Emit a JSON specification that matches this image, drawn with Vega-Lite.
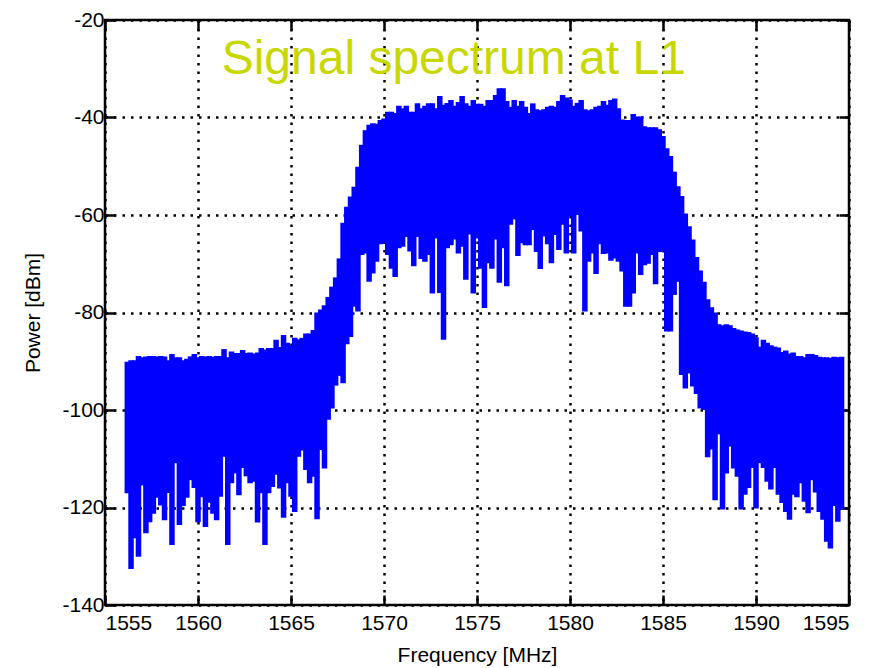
{
  "$schema": "https://vega.github.io/schema/vega-lite/v6.json",
  "width": 744,
  "height": 585,
  "autosize": {"type": "none"},
  "padding": {"left": 105, "top": 20, "right": 37, "bottom": 63},
  "background": "white",
  "config": {"view": {"stroke": "black", "strokeWidth": 2.5}, "font": "Liberation Sans"},
  "layer": [
    {
      "data": {"values": [
        {"f":1556.2,"h":-90.1,"l":-117.1},{"f":1556.4,"h":-89.8,"l":-132.6},{"f":1556.6,"h":-89.8,"l":-126.3},{"f":1556.8,"h":-88.9,"l":-130.1},
        {"f":1557.0,"h":-89.2,"l":-115.5},{"f":1557.2,"h":-89.0,"l":-125.3},{"f":1557.4,"h":-88.9,"l":-123.0},{"f":1557.6,"h":-88.9,"l":-121.3},
        {"f":1557.8,"h":-89.0,"l":-118.0},{"f":1558.0,"h":-88.9,"l":-119.6},{"f":1558.2,"h":-89.0,"l":-122.6},{"f":1558.4,"h":-89.8,"l":-117.0},
        {"f":1558.6,"h":-88.5,"l":-127.7},{"f":1558.8,"h":-89.2,"l":-110.9},{"f":1559.0,"h":-89.2,"l":-123.6},{"f":1559.2,"h":-89.8,"l":-119.7},
        {"f":1559.4,"h":-89.5,"l":-118.0},{"f":1559.6,"h":-89.0,"l":-114.4},{"f":1559.8,"h":-88.5,"l":-116.0},{"f":1560.0,"h":-89.2,"l":-123.0},
        {"f":1560.2,"h":-88.9,"l":-117.9},{"f":1560.4,"h":-89.0,"l":-124.0},{"f":1560.6,"h":-88.9,"l":-119.0},{"f":1560.8,"h":-89.1,"l":-121.3},
        {"f":1561.0,"h":-88.9,"l":-122.6},{"f":1561.2,"h":-88.9,"l":-117.8},{"f":1561.4,"h":-87.5,"l":-109.6},{"f":1561.6,"h":-89.2,"l":-127.7},
        {"f":1561.8,"h":-88.0,"l":-115.0},{"f":1562.0,"h":-88.3,"l":-113.0},{"f":1562.2,"h":-88.3,"l":-117.5},{"f":1562.4,"h":-87.7,"l":-111.9},
        {"f":1562.6,"h":-88.3,"l":-113.6},{"f":1562.8,"h":-88.2,"l":-115.0},{"f":1563.0,"h":-88.4,"l":-114.7},{"f":1563.2,"h":-88.2,"l":-123.1},
        {"f":1563.4,"h":-87.3,"l":-117.1},{"f":1563.6,"h":-87.6,"l":-127.7},{"f":1563.8,"h":-87.3,"l":-117.1},{"f":1564.0,"h":-87.3,"l":-115.8},
        {"f":1564.2,"h":-85.6,"l":-113.3},{"f":1564.4,"h":-87.1,"l":-116.1},{"f":1564.6,"h":-84.6,"l":-122.1},{"f":1564.8,"h":-86.2,"l":-115.0},
        {"f":1565.0,"h":-86.7,"l":-117.8},{"f":1565.2,"h":-85.2,"l":-120.9},{"f":1565.4,"h":-85.5,"l":-109.6},{"f":1565.6,"h":-85.2,"l":-108.3},
        {"f":1565.8,"h":-84.3,"l":-112.3},{"f":1566.0,"h":-84.3,"l":-115.0},{"f":1566.2,"h":-83.6,"l":-113.7},{"f":1566.4,"h":-80.0,"l":-122.4},
        {"f":1566.6,"h":-79.4,"l":-108.2},{"f":1566.8,"h":-78.5,"l":-112.0},{"f":1567.0,"h":-76.8,"l":-102.0},{"f":1567.2,"h":-74.7,"l":-99.7},
        {"f":1567.4,"h":-72.8,"l":-95.0},{"f":1567.6,"h":-68.9,"l":-93.0},{"f":1567.8,"h":-61.6,"l":-94.5},{"f":1568.0,"h":-58.3,"l":-86.5},
        {"f":1568.2,"h":-56.2,"l":-85.0},{"f":1568.4,"h":-54.2,"l":-78.8},{"f":1568.6,"h":-50.1,"l":-79.8},{"f":1568.8,"h":-45.6,"l":-68.2},
        {"f":1569.0,"h":-42.6,"l":-67.9},{"f":1569.2,"h":-41.5,"l":-73.7},{"f":1569.4,"h":-41.2,"l":-72.0},{"f":1569.6,"h":-41.3,"l":-69.6},
        {"f":1569.8,"h":-40.5,"l":-66.0},{"f":1570.0,"h":-40.2,"l":-65.8},{"f":1570.2,"h":-38.8,"l":-68.2},{"f":1570.4,"h":-38.8,"l":-71.0},
        {"f":1570.6,"h":-39.1,"l":-72.7},{"f":1570.8,"h":-37.6,"l":-66.8},{"f":1571.0,"h":-38.1,"l":-66.5},{"f":1571.2,"h":-37.6,"l":-64.5},
        {"f":1571.4,"h":-38.8,"l":-67.5},{"f":1571.6,"h":-38.8,"l":-70.5},{"f":1571.8,"h":-37.1,"l":-64.5},{"f":1572.0,"h":-38.1,"l":-69.0},
        {"f":1572.2,"h":-37.6,"l":-69.6},{"f":1572.4,"h":-37.1,"l":-68.2},{"f":1572.6,"h":-37.1,"l":-76.1},{"f":1572.8,"h":-38.1,"l":-64.8},
        {"f":1573.0,"h":-35.6,"l":-76.0},{"f":1573.2,"h":-37.4,"l":-85.6},{"f":1573.4,"h":-37.0,"l":-66.8},{"f":1573.6,"h":-36.4,"l":-66.2},
        {"f":1573.8,"h":-37.6,"l":-65.0},{"f":1574.0,"h":-36.8,"l":-67.9},{"f":1574.2,"h":-35.6,"l":-66.5},{"f":1574.4,"h":-37.1,"l":-73.3},
        {"f":1574.6,"h":-37.6,"l":-64.0},{"f":1574.8,"h":-36.4,"l":-76.1},{"f":1575.0,"h":-37.2,"l":-64.8},{"f":1575.2,"h":-37.2,"l":-71.0},
        {"f":1575.4,"h":-37.6,"l":-79.1},{"f":1575.6,"h":-36.4,"l":-69.9},{"f":1575.8,"h":-36.4,"l":-71.0},{"f":1576.0,"h":-35.4,"l":-65.0},
        {"f":1576.2,"h":-34.0,"l":-73.9},{"f":1576.4,"h":-34.0,"l":-66.8},{"f":1576.6,"h":-36.6,"l":-74.6},{"f":1576.8,"h":-37.8,"l":-62.0},
        {"f":1577.0,"h":-36.4,"l":-60.9},{"f":1577.2,"h":-37.6,"l":-68.4},{"f":1577.4,"h":-36.6,"l":-65.8},{"f":1577.6,"h":-37.8,"l":-66.2},
        {"f":1577.8,"h":-39.1,"l":-66.2},{"f":1578.0,"h":-37.1,"l":-63.1},{"f":1578.2,"h":-38.3,"l":-67.6},{"f":1578.4,"h":-38.5,"l":-71.1},
        {"f":1578.6,"h":-38.3,"l":-64.4},{"f":1578.8,"h":-37.8,"l":-66.0},{"f":1579.0,"h":-37.6,"l":-69.9},{"f":1579.2,"h":-37.8,"l":-64.1},
        {"f":1579.4,"h":-36.6,"l":-67.2},{"f":1579.6,"h":-35.4,"l":-62.0},{"f":1579.8,"h":-35.9,"l":-67.9},{"f":1580.0,"h":-36.3,"l":-60.3},
        {"f":1580.2,"h":-37.6,"l":-67.9},{"f":1580.4,"h":-37.0,"l":-60.0},{"f":1580.6,"h":-36.4,"l":-63.4},{"f":1580.8,"h":-38.3,"l":-79.8},
        {"f":1581.0,"h":-38.5,"l":-69.6},{"f":1581.2,"h":-38.3,"l":-67.9},{"f":1581.4,"h":-37.8,"l":-72.1},{"f":1581.6,"h":-37.6,"l":-66.0},
        {"f":1581.8,"h":-36.6,"l":-68.0},{"f":1582.0,"h":-37.4,"l":-67.9},{"f":1582.2,"h":-36.4,"l":-69.4},{"f":1582.4,"h":-36.1,"l":-68.9},
        {"f":1582.6,"h":-38.1,"l":-69.6},{"f":1582.8,"h":-40.4,"l":-71.6},{"f":1583.0,"h":-40.5,"l":-78.8},{"f":1583.2,"h":-40.5,"l":-78.8},
        {"f":1583.4,"h":-39.3,"l":-76.1},{"f":1583.6,"h":-39.8,"l":-67.9},{"f":1583.8,"h":-39.8,"l":-72.3},{"f":1584.0,"h":-41.8,"l":-70.3},
        {"f":1584.2,"h":-42.0,"l":-70.0},{"f":1584.4,"h":-42.0,"l":-68.2},{"f":1584.6,"h":-42.0,"l":-74.2},{"f":1584.8,"h":-42.4,"l":-67.6},
        {"f":1585.0,"h":-43.8,"l":-67.4},{"f":1585.2,"h":-46.3,"l":-83.9},{"f":1585.4,"h":-47.9,"l":-83.9},{"f":1585.6,"h":-51.1,"l":-76.4},
        {"f":1585.8,"h":-54.1,"l":-73.7},{"f":1586.0,"h":-56.1,"l":-92.8},{"f":1586.2,"h":-59.7,"l":-95.6},{"f":1586.4,"h":-62.3,"l":-92.5},
        {"f":1586.6,"h":-65.0,"l":-95.2},{"f":1586.8,"h":-68.6,"l":-96.7},{"f":1587.0,"h":-71.4,"l":-99.7},{"f":1587.2,"h":-73.7,"l":-100.0},
        {"f":1587.4,"h":-77.3,"l":-109.7},{"f":1587.6,"h":-78.9,"l":-108.1},{"f":1587.8,"h":-80.0,"l":-118.5},{"f":1588.0,"h":-82.4,"l":-105.0},
        {"f":1588.2,"h":-82.6,"l":-120.4},{"f":1588.4,"h":-82.4,"l":-113.0},{"f":1588.6,"h":-82.6,"l":-107.5},{"f":1588.8,"h":-83.2,"l":-112.0},
        {"f":1589.0,"h":-83.5,"l":-113.7},{"f":1589.2,"h":-83.7,"l":-120.4},{"f":1589.4,"h":-83.9,"l":-117.4},{"f":1589.6,"h":-84.0,"l":-116.0},
        {"f":1589.8,"h":-84.3,"l":-111.9},{"f":1590.0,"h":-85.1,"l":-120.2},{"f":1590.2,"h":-87.0,"l":-110.9},{"f":1590.4,"h":-85.6,"l":-111.9},
        {"f":1590.6,"h":-86.2,"l":-114.7},{"f":1590.8,"h":-86.7,"l":-116.3},{"f":1591.0,"h":-87.0,"l":-111.9},{"f":1591.2,"h":-87.2,"l":-117.4},
        {"f":1591.4,"h":-88.1,"l":-119.1},{"f":1591.6,"h":-87.8,"l":-120.9},{"f":1591.8,"h":-88.4,"l":-122.5},{"f":1592.0,"h":-88.2,"l":-117.4},
        {"f":1592.2,"h":-88.9,"l":-117.9},{"f":1592.4,"h":-88.9,"l":-115.0},{"f":1592.6,"h":-89.2,"l":-118.8},{"f":1592.8,"h":-88.5,"l":-121.2},
        {"f":1593.0,"h":-88.5,"l":-114.4},{"f":1593.2,"h":-88.7,"l":-116.9},{"f":1593.4,"h":-89.1,"l":-120.9},{"f":1593.6,"h":-89.2,"l":-122.5},
        {"f":1593.8,"h":-89.2,"l":-127.0},{"f":1594.0,"h":-89.3,"l":-128.4},{"f":1594.2,"h":-89.1,"l":-119.7},{"f":1594.4,"h":-89.2,"l":-122.9},
        {"f":1594.6,"h":-89.1,"l":-120.4}
      ]},
      "mark": {"type": "rule", "color": "#0000ff", "strokeWidth": 5.5},
      "encoding": {
        "x": {
          "field": "f", "type": "quantitative",
          "scale": {"domain": [1555, 1595], "nice": false, "zero": false},
          "axis": {
            "orient": "bottom", "values": [1555, 1560, 1565, 1570, 1575, 1580, 1585, 1590, 1595], "format": "d",
            "labelFontSize": 21, "labelColor": "black", "labelPadding": 17, "labelFont": "Liberation Sans",
            "tickSize": -10, "tickColor": "black", "tickWidth": 2.5, "domain": false,
            "grid": true, "gridColor": "black", "gridDash": [2.5, 6], "gridWidth": 2.5, "gridOpacity": 1,
            "title": "Frequency [MHz]", "titleFontSize": 21, "titleFontWeight": "normal", "titleColor": "black", "titleFont": "Liberation Sans", "titlePadding": 11
          }
        },
        "y": {
          "field": "h", "type": "quantitative",
          "scale": {"domain": [-140, -20], "nice": false, "zero": false},
          "axis": {
            "orient": "left", "values": [-140, -120, -100, -80, -60, -40, -20], "labelExpr": "'' + datum.value",
            "labelFontSize": 21, "labelColor": "black", "labelPadding": 11, "labelFont": "Liberation Sans",
            "tickSize": -10, "tickColor": "black", "tickWidth": 2.5, "domain": false,
            "grid": true, "gridColor": "black", "gridDash": [2.5, 6], "gridWidth": 2.5, "gridOpacity": 1,
            "title": "Power [dBm]", "titleFontSize": 21, "titleFontWeight": "normal", "titleColor": "black", "titleFont": "Liberation Sans", "titlePadding": 18
          }
        },
        "y2": {"field": "l"}
      }
    },
    {
      "data": {"values": [{"label": "Signal spectrum at L1"}]},
      "mark": {"type": "text", "fontSize": 48, "color": "#c8d700", "align": "center", "baseline": "alphabetic", "font": "Liberation Sans"},
      "encoding": {
        "text": {"field": "label"},
        "x": {
          "datum": 1573.75, "type": "quantitative",
          "scale": {"domain": [1555, 1595], "nice": false, "zero": false},
          "axis": {"orient": "top", "values": [1555, 1560, 1565, 1570, 1575, 1580, 1585, 1590, 1595], "labels": false, "title": null, "grid": false, "domain": false, "tickSize": -10, "tickColor": "black", "tickWidth": 2.5}
        },
        "y": {
          "datum": -31.1, "type": "quantitative",
          "scale": {"domain": [-140, -20], "nice": false, "zero": false},
          "axis": {"orient": "right", "values": [-140, -120, -100, -80, -60, -40, -20], "labels": false, "title": null, "grid": false, "domain": false, "tickSize": -10, "tickColor": "black", "tickWidth": 2.5}
        }
      }
    }
  ],
  "resolve": {"axis": {"x": "independent", "y": "independent"}}
}
